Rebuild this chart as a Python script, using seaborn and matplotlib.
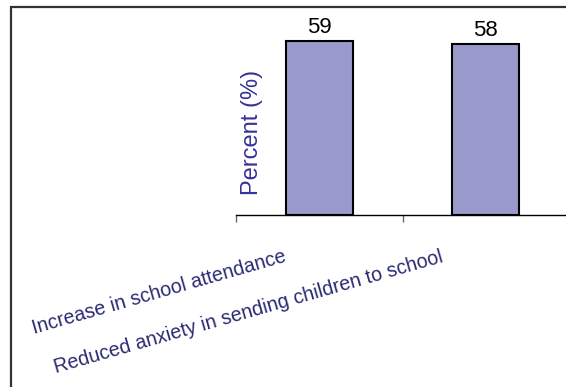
import matplotlib
matplotlib.use("Agg")
import matplotlib.pyplot as plt
import matplotlib.transforms as mtransforms
from matplotlib.patches import Rectangle
import seaborn as sns

categories = ["Increase in school attendance",
              "Reduced anxiety in sending children to school"]
values = [59, 58]
y_label = "Percent (%)"

sns.set_style("white")
plt.rcParams["font.family"] = ["Liberation Sans", "DejaVu Sans"]

W, H = 566, 387
fig = plt.figure(figsize=(W / 100, H / 100), dpi=100)
fig.patch.set_facecolor("white")

# outer frame around the chart (runs off the right and bottom edges)
fig.patches.append(Rectangle((11 / W, -0.1), 1.2, (H - 7) / H + 0.1,
                             transform=fig.transFigure, fill=False,
                             edgecolor="#333333", linewidth=1.6))

ax = fig.add_axes([236 / W, 172 / H, 333 / W, 206.5 / H])
sns.barplot(x=categories, y=values, color="#9999cc", saturation=1,
            edgecolor="black", linewidth=1.5, width=0.4, ax=ax)

ax.set_xlim(-0.5, 1.5)
ax.set_ylim(0, 70)
ax.set_yticks([])
for s in ["top", "right", "left"]:
    ax.spines[s].set_visible(False)
ax.spines["bottom"].set_color("black")
ax.spines["bottom"].set_linewidth(1.0)

# value labels above bars
for i, v in enumerate(values):
    ax.annotate(f"{v}", xy=(i, v), xytext=(0, 8), textcoords="offset pixels",
                ha="center", va="baseline", fontsize=16, color="black")

ax.set_ylabel(y_label, fontsize=17, color="#333399", va="center")
ax.yaxis.set_label_coords(0.048, 0.40)

# category boundary tick marks
ax.set_xticks([-0.5, 0.5, 1.5], minor=True)
ax.tick_params(axis="x", which="minor", length=5, width=1, color="#666666",
               direction="out", bottom=True)
ax.tick_params(axis="x", which="major", length=0, pad=0)
ax.set_xticks(range(len(categories)))
ax.set_xticklabels(categories, rotation=16, ha="right", va="baseline",
                   rotation_mode="anchor", fontsize=14.2, color="#2a2a72")

offsets = [(-32, -46), (-42, -47)]
for lab, (dx, dy) in zip(ax.get_xticklabels(), offsets):
    lab.set_transform(lab.get_transform() +
                      mtransforms.ScaledTranslation(dx / 100, dy / 100,
                                                    fig.dpi_scale_trans))

fig.savefig("out.png", dpi=100)
